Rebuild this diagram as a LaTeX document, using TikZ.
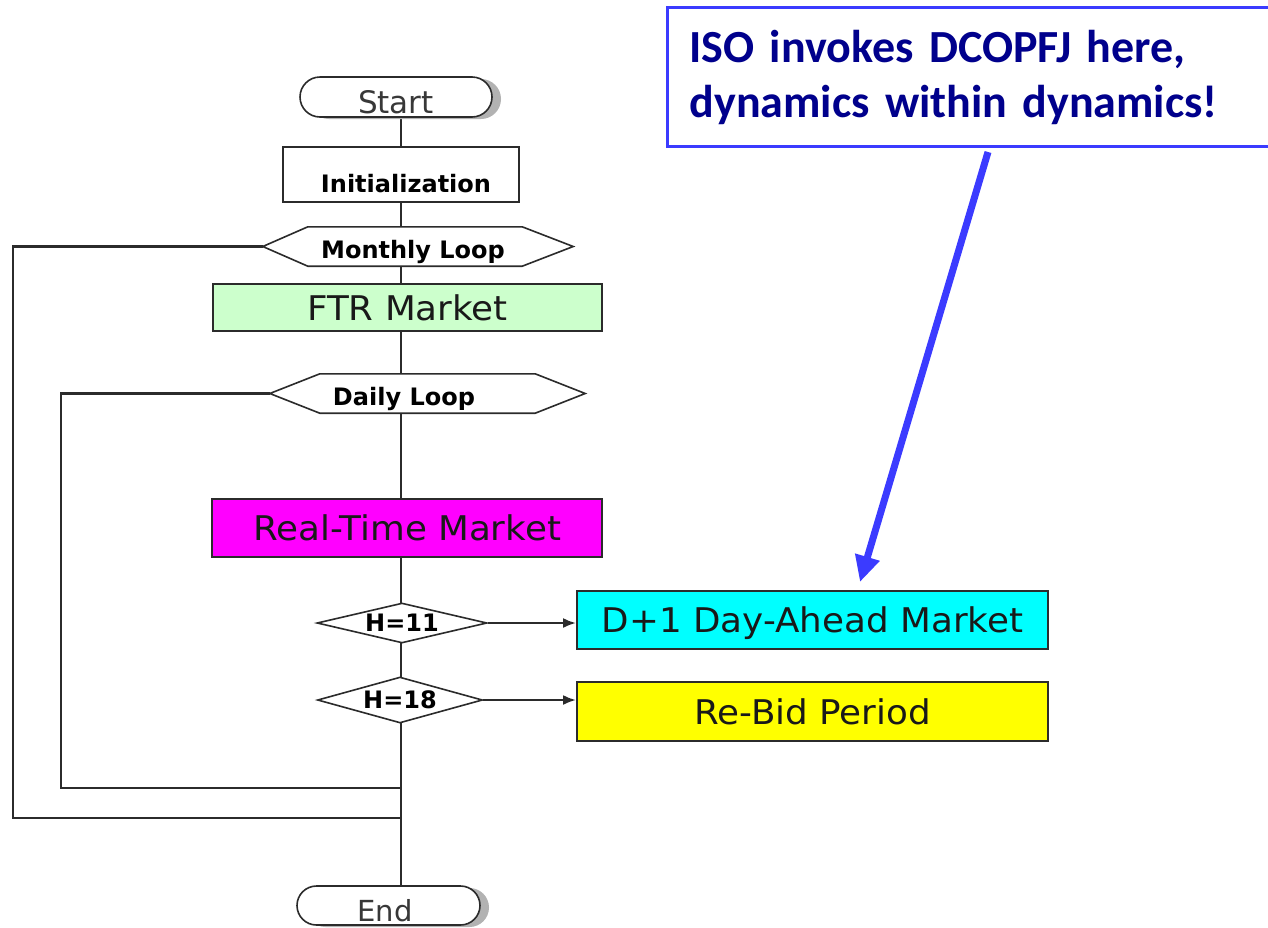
\documentclass[tikz,border=0pt]{standalone}
\usepackage{fontspec}
\newfontfamily\vfont{DejaVu Sans}
\newfontfamily\vwfont[FakeStretch=1.05]{DejaVu Sans}
\newfontfamily\cfont{Carlito}
\usetikzlibrary{shapes.geometric,shapes.misc,arrows.meta,shadows,backgrounds}
\definecolor{lineg}{HTML}{2B2B2B}
\definecolor{ftrg}{HTML}{CCFFCC}
\definecolor{rtm}{HTML}{FF00FF}
\definecolor{dac}{HTML}{00FFFF}
\definecolor{rby}{HTML}{FFFF00}
\definecolor{cblue}{HTML}{3B3BFF}
\definecolor{cnavy}{HTML}{00008C}
\begin{document}
\begin{tikzpicture}[x=1pt,y=-1pt,
  flow/.style={draw=lineg, line width=2.4pt},
  box/.style={rectangle, draw=lineg, line width=1.8pt, inner sep=0pt, font=\vwfont\fontsize{34}{40}\selectfont, text=black!90},
  boldlbl/.style={font=\vfont\bfseries\fontsize{24}{29}\selectfont, text=black, inner sep=0pt},
  term/.style={rounded rectangle, draw=lineg, line width=1.6pt, fill=white, inner sep=0pt,
    drop shadow={shadow xshift=9pt, shadow yshift=-2pt, fill=black!30, opacity=1}},
  termtxt/.style={font=\vfont\fontsize{31}{37}\selectfont, text=black!78, inner sep=0pt, anchor=base},
  hexa/.style={draw=lineg, line width=1.6pt, fill=white},
  hexbox/.style={rectangle, draw=none, inner sep=0pt},
  dia/.style={diamond, draw=lineg, line width=1.6pt, fill=white, inner sep=0pt, aspect=4.25,
    font=\vfont\bfseries\fontsize{24}{29}\selectfont, text=black},
  harrow/.style={flow, -{Latex[length=13pt,width=10pt]}},
  bluearrow/.style={draw=cblue, line width=7pt, -{Triangle[length=26pt,width=24pt]}},
  callout/.style={rectangle, draw=cblue, line width=3pt, fill=white, text=cnavy,
    font=\cfont\bfseries\fontsize{46}{55}\selectfont, align=left, text width=600pt,
    inner xsep=22pt, inner ysep=0pt, minimum height=139pt, anchor=north west}
]
\useasboundingbox (0,0) rectangle (1268,927);
\begin{scope}[on background layer]
  \fill[white] (0,0) rectangle (1268,927);
\end{scope}

% terminals
\node[term, minimum width=192pt, minimum height=40pt] (start) at (396,97) {};
\node[termtxt] (starttxt) at (396,113) {Start};
\node[term, minimum width=183pt, minimum height=39pt] (endt) at (388.5,905.5) {};
\node[termtxt, font=\vfont\fontsize{29}{35}\selectfont] (endtxt) at (385,921) {End};

% boxes
\node[box, fill=white, minimum width=236pt, minimum height=55pt,
      font=\vfont\bfseries\fontsize{24}{29}\selectfont, text=black, text height=35pt, text depth=0pt]
      (init) at (401,174.5) {\hspace*{10pt}Initialization};
\node[box, fill=ftrg, minimum width=389pt, minimum height=47pt] (ftr) at (407.5,307.5) {FTR Market};
\node[box, fill=rtm, minimum width=390pt, minimum height=58pt] (rt) at (407,528) {Real-Time Market};
\node[box, fill=dac, minimum width=471pt, minimum height=58pt, text depth=0pt] (d1) at (812.5,620) {D+1 Day-Ahead Market};
\node[box, fill=rby, minimum width=471pt, minimum height=59pt] (rb) at (812.5,711.5) {Re-Bid Period};

% loop hexagons (frames)
\node[hexbox, minimum width=310pt, minimum height=39pt] (monthly) at (418,246.5) {};
\node[hexbox, minimum width=315pt, minimum height=39pt] (daily) at (427.5,393.5) {};

% decisions
\node[dia, minimum width=170pt, minimum height=40pt] (h11) at (402,623) {H=11};
\node[dia, minimum width=165pt, minimum height=46pt] (h18) at (400,700) {H=18};

\coordinate (mx) at (401,0);
\coordinate (mc1) at (13,818);
\coordinate (mc2) at (401,818);
\coordinate (dc1) at (61,788);
\coordinate (dc2) at (401,788);

\begin{scope}[on background layer]
  \draw[flow] (start.south -| mx) -- (endt.north -| mx);
  \draw[flow] (monthly.west) -| (mc1) -- (mc2);
  \draw[flow] (daily.west) -| (dc1) -- (dc2);
  \draw[hexa] (monthly.west) -- ([xshift=45pt]monthly.north west) -- ([xshift=-51pt]monthly.north east)
     -- (monthly.east) -- ([xshift=-51pt]monthly.south east) -- ([xshift=45pt]monthly.south west) -- cycle;
  \draw[hexa] (daily.west) -- ([xshift=50pt]daily.north west) -- ([xshift=-50pt]daily.north east)
     -- (daily.east) -- ([xshift=-50pt]daily.south east) -- ([xshift=50pt]daily.south west) -- cycle;
\end{scope}

\node[boldlbl, anchor=base] (monthlytxt) at (413,258) {Monthly Loop};
\node[boldlbl, anchor=base] (dailytxt) at (404,405) {Daily Loop};

\draw[harrow] (h11.east) -- (h11.east -| d1.west);
\draw[harrow] (h18.east) -- (h18.east -| rb.west);

% callout
\node[callout] (iso) at (666,6) {ISO invokes DCOPFJ here,\\dynamics within dynamics!};
\coordinate (bt) at (988,152);
\coordinate (bh) at (860,582);
\draw[bluearrow] (bt) -- (bh);
\end{tikzpicture}
\end{document}
